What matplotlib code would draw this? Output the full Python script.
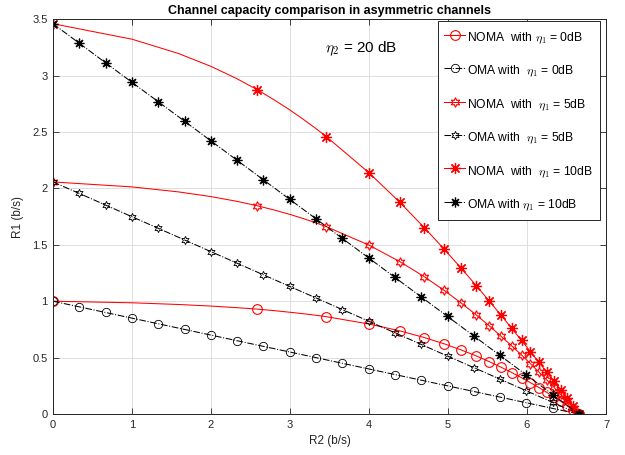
import matplotlib
matplotlib.use('Agg')
import matplotlib.pyplot as plt

# ================= data =================
# NOMA: R2 shared by all three curves (eta2 = 20 dB), denser near R2 = 0
noma_r2 = [0.0, 1.0, 1.585, 2.0, 2.322, 2.585, 2.807, 3.0, 3.170, 3.322,
           3.459, 4.0, 4.392, 4.700, 4.954, 5.170, 5.358, 5.524, 5.672, 5.807,
           5.931, 6.044, 6.150, 6.248, 6.340, 6.426, 6.508, 6.585, 6.658, 6.658]
noma_r1_0db = [1.0, 0.986, 0.971, 0.957, 0.943, 0.930, 0.916, 0.902, 0.889, 0.876,
               0.863, 0.798, 0.737, 0.678, 0.622, 0.567, 0.515, 0.464, 0.415, 0.368,
               0.322, 0.278, 0.235, 0.193, 0.152, 0.113, 0.074, 0.037, 0.0, 0.0]
noma_r1_5db = [2.057, 2.013, 1.969, 1.927, 1.886, 1.846, 1.807, 1.769, 1.732, 1.696,
               1.661, 1.497, 1.350, 1.217, 1.095, 0.982, 0.878, 0.781, 0.689, 0.604,
               0.523, 0.446, 0.373, 0.304, 0.238, 0.175, 0.114, 0.056, 0.0, 0.0]
noma_r1_10db = [3.459, 3.322, 3.196, 3.081, 2.974, 2.875, 2.781, 2.694, 2.611, 2.533,
                2.459, 2.138, 1.875, 1.652, 1.459, 1.290, 1.138, 1.0, 0.875, 0.759,
                0.652, 0.553, 0.459, 0.372, 0.290, 0.212, 0.138, 0.067, 0.0, 0.0]
noma_marks = [0, 5] + list(range(10, 29))

# OMA: straight time-sharing lines
oma_r2 = [0.0, 0.333, 0.666, 0.999, 1.332, 1.665, 1.997, 2.330, 2.663, 2.996,
          3.329, 3.662, 3.995, 4.328, 4.661, 4.994, 5.327, 5.659, 5.992, 6.325, 6.658]
oma_r1_0db = [1.0, 0.95, 0.90, 0.85, 0.80, 0.75, 0.70, 0.65, 0.60, 0.55,
              0.50, 0.45, 0.40, 0.35, 0.30, 0.25, 0.20, 0.15, 0.10, 0.05, 0.0]
oma_r1_5db = [2.057, 1.955, 1.852, 1.749, 1.646, 1.543, 1.440, 1.337, 1.234, 1.131,
              1.029, 0.926, 0.823, 0.720, 0.617, 0.514, 0.411, 0.309, 0.206, 0.103, 0.0]
oma_r1_10db = [3.459, 3.286, 3.113, 2.940, 2.768, 2.595, 2.422, 2.249, 2.076, 1.903,
               1.730, 1.557, 1.384, 1.211, 1.038, 0.865, 0.692, 0.519, 0.346, 0.173, 0.0]

x_ticks = [0, 1, 2, 3, 4, 5, 6, 7]
y_ticks = [0, 0.5, 1, 1.5, 2, 2.5, 3, 3.5]

# ================= style =================
plt.rcParams['font.family'] = ['Liberation Sans', 'DejaVu Sans']
plt.rcParams['mathtext.fontset'] = 'cm'
AX_COL = '#262626'
HEXAGRAM = (6, 1, 0)
ASTERISK = (8, 2, 0)

fig = plt.figure(figsize=(6.25, 4.55), dpi=100)
ax = fig.add_axes([0.0848, 0.090, 0.8848, 0.868])

lw = 0.75
ax.plot(noma_r2, noma_r1_0db, 'r-', lw=lw, marker='o', ms=7, mfc='none', mew=0.8,
        markevery=noma_marks, label=r'NOMA  with $\eta_1$ = 0dB')
ax.plot(oma_r2, oma_r1_0db, 'k-.', lw=lw, marker='o', ms=6, mfc='none', mew=0.6,
        label=r'OMA with  $\eta_1$ = 0dB')
ax.plot(noma_r2, noma_r1_5db, 'r-', lw=lw, marker=HEXAGRAM, ms=7, mfc='none', mew=0.8,
        markevery=noma_marks, label=r'NOMA  with  $\eta_1$ = 5dB')
ax.plot(oma_r2, oma_r1_5db, 'k-.', lw=lw, marker=HEXAGRAM, ms=6, mfc='none', mew=0.6,
        label=r'OMA with  $\eta_1$ = 5dB')
ax.plot(noma_r2, noma_r1_10db, 'r-', lw=lw, marker=ASTERISK, ms=8, mew=0.9,
        markevery=noma_marks, label=r'NOMA  with  $\eta_1$ = 10dB')
ax.plot(oma_r2, oma_r1_10db, 'k-.', lw=lw, marker=ASTERISK, ms=7, mew=0.9,
        label=r'OMA with $\eta_1$ = 10dB')

ax.set_xlim(0, 7)
ax.set_ylim(0, 3.5)
ax.set_xticks(x_ticks)
ax.set_xticklabels([str(t) for t in x_ticks])
ax.set_yticks(y_ticks)
ax.set_yticklabels(['0', '0.5', '1', '1.5', '2', '2.5', '3', '3.5'])
ax.grid(True, color='#dedede', lw=0.7)
ax.set_axisbelow(True)
ax.tick_params(direction='in', length=4, width=0.6, colors=AX_COL, labelsize=8,
               top=True, right=True, pad=4)
for sp in ax.spines.values():
    sp.set_color(AX_COL)
    sp.set_linewidth(0.7)

ax.set_xlabel('R2 (b/s)', fontsize=8.5, color=AX_COL, labelpad=4)
ax.set_ylabel('R1 (b/s)', fontsize=8.5, color=AX_COL, labelpad=6)
ax.set_title('Channel capacity comparison in asymmetric channels',
             fontsize=9, fontweight='bold', pad=4)
ax.text(3.44, 3.24, r'$\eta_2$ = 20 dB', fontsize=11, va='center', ha='left')

leg = ax.legend(loc='upper right', bbox_to_anchor=(0.989, 0.994), borderaxespad=0,
                fontsize=8.7, labelspacing=1.22, handleheight=2.0, handlelength=1.7,
                handletextpad=0.2, borderpad=0.55, fancybox=False, framealpha=1,
                edgecolor=AX_COL)
leg.get_frame().set_linewidth(0.7)

fig.savefig('out.png', dpi=100)
